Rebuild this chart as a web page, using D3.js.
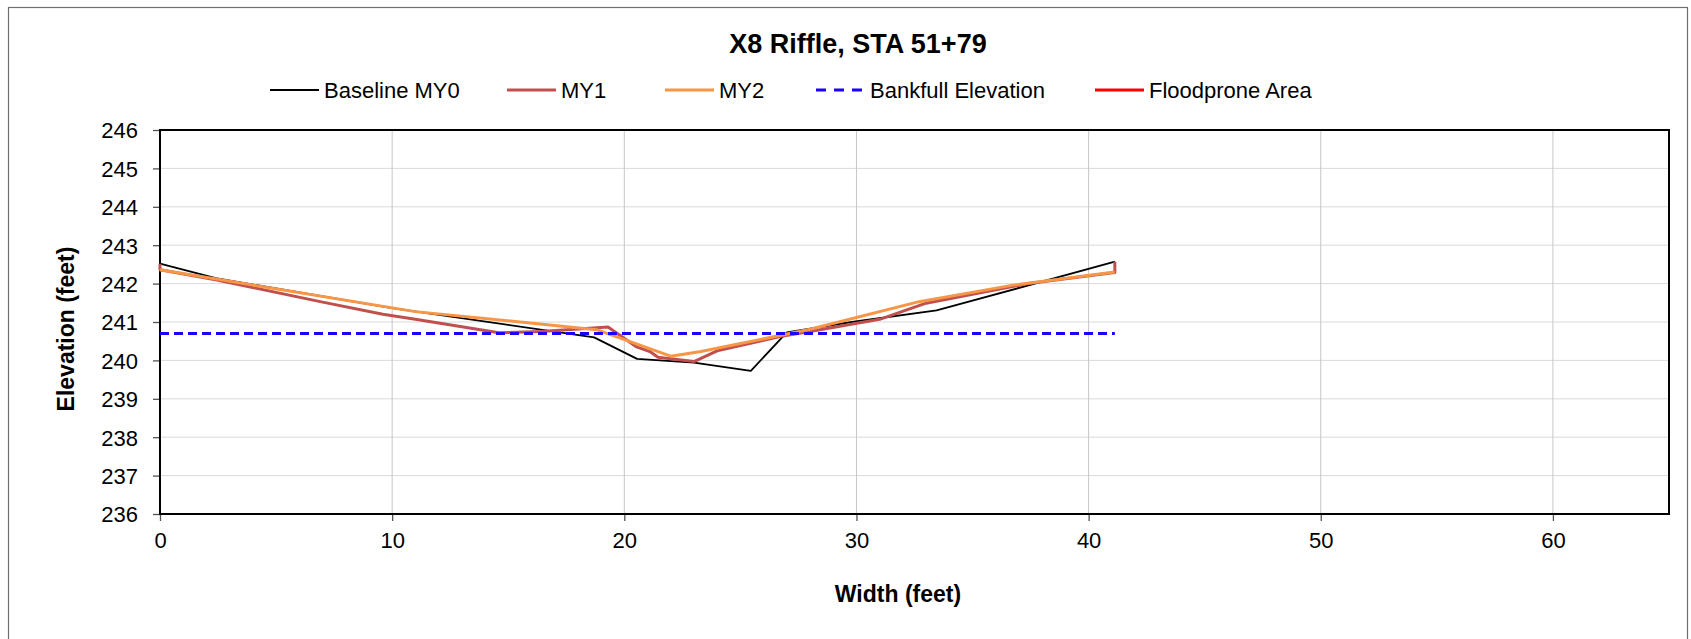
<!DOCTYPE html>
<html>
<head>
<meta charset="utf-8">
<script src="https://cdn.jsdelivr.net/npm/d3@7"></script>
<style>
    body { margin: 0; background: #fff; }
    svg { font-family: "Liberation Sans", Arial, sans-serif; }
</style>
</head>
<body>
<div id="my_dataviz"></div>
<script>
// cross section survey points [width, elevation]
const baselineMY0 = [[0, 242.52], [2.4, 242.14], [10, 241.36], [18.7, 240.6], [20.55, 240.04], [23.0, 239.94],
    [25.45, 239.73], [27.0, 240.73], [29.8, 241.0], [33.45, 241.3], [41.13, 242.57]];
const my1 = [[0, 242.52], [0, 242.36], [2.4, 242.1], [6.9, 241.53], [9.6, 241.2], [11.0, 241.07], [14.6, 240.72],
    [16.4, 240.75], [19.3, 240.87], [20.5, 240.36], [21.1, 240.23], [21.45, 240.08], [23.0, 239.97], [24.0, 240.25],
    [26.7, 240.62], [28.0, 240.75], [31.0, 241.07], [33.0, 241.49], [37.4, 242.0], [41.13, 242.29], [41.13, 242.57]];
const my2 = [[0, 242.36], [11.0, 241.27], [18.8, 240.8], [22.0, 240.11], [23.3, 240.23], [28.0, 240.81],
    [32.7, 241.53], [36.75, 241.96], [41.13, 242.3]];
const bankfull = [[0, 240.7], [41.13, 240.7]];
const floodprone = [];

const xTicks = [0, 10, 20, 30, 40, 50, 60];
const yTicks = [236, 237, 238, 239, 240, 241, 242, 243, 244, 245, 246];
const seriesNames = ["Baseline MY0", "MY1", "MY2", "Bankfull Elevation", "Floodprone Area"];

document.addEventListener("DOMContentLoaded", function() {

    const W = 1691, H = 639;
    const margin = {top: 130, right: 22, bottom: 125, left: 160},
        width = W - margin.left - margin.right,
        height = H - margin.top - margin.bottom;

    const root = d3.select("#my_dataviz")
        .append("svg")
        .attr("width", W)
        .attr("height", H);

    // outer chart frame
    root.append("rect")
        .attr("x", 8.5).attr("y", 7.5)
        .attr("width", 1679).attr("height", 700)
        .attr("fill", "none")
        .attr("stroke", "#6e6e6e")
        .attr("stroke-width", 1.2);

    const svg = root.append("g")
        .attr("transform", `translate(${margin.left},${margin.top})`);

    const xScale = d3.scaleLinear().domain([0, 65]).range([0, width]);
    const yScale = d3.scaleLinear().domain([236, 246]).range([height, 0]);

    // gridlines
    svg.append("g")
        .selectAll("line")
        .data(yTicks)
        .enter().append("line")
        .attr("x1", 0).attr("x2", width)
        .attr("y1", d => yScale(d)).attr("y2", d => yScale(d))
        .attr("stroke", "#dadada")
        .attr("stroke-width", 1);
    svg.append("g")
        .selectAll("line")
        .data(xTicks)
        .enter().append("line")
        .attr("x1", d => xScale(d)).attr("x2", d => xScale(d))
        .attr("y1", 0).attr("y2", height)
        .attr("stroke", "#c6c6c6")
        .attr("stroke-width", 1);

    // axes
    const xAxis = svg.append("g")
        .attr("transform", `translate(0,${height})`)
        .call(d3.axisBottom(xScale).tickValues(xTicks).tickSize(7).tickPadding(11).tickSizeOuter(0));
    const yAxis = svg.append("g")
        .call(d3.axisLeft(yScale).tickValues(yTicks).tickSize(7).tickPadding(15).tickSizeOuter(0));
    [xAxis, yAxis].forEach(a => {
        a.select(".domain").remove();
        a.selectAll("line").attr("stroke", "#555").attr("stroke-width", 1.3);
        a.selectAll("text")
            .attr("fill", "#000")
            .style("font-family", "'Liberation Sans', Arial, sans-serif")
            .style("font-size", "22px");
    });
    yAxis.selectAll("text").attr("dy", "0.36em");

    // plot border
    svg.append("rect")
        .attr("width", width).attr("height", height)
        .attr("fill", "none")
        .attr("stroke", "#000")
        .attr("stroke-width", 2);

    const line = d3.line()
        .x(d => xScale(d[0]))
        .y(d => yScale(d[1]));

    const series = [
        {name: seriesNames[0], data: baselineMY0, color: "#000000", w: 1.8, dash: null},
        {name: seriesNames[1], data: my1, color: "#c0504d", w: 3, dash: null},
        {name: seriesNames[2], data: my2, color: "#f79646", w: 3, dash: null},
        {name: seriesNames[3], data: bankfull, color: "#1a00ff", w: 3.2, dash: "9,5"},
        {name: seriesNames[4], data: floodprone, color: "#ff0000", w: 3, dash: null}
    ];

    series.forEach(s => {
        if (!s.data.length) return;
        svg.append("path")
            .datum(s.data)
            .attr("fill", "none")
            .attr("stroke", s.color)
            .attr("stroke-width", s.w)
            .attr("stroke-linejoin", "round")
            .attr("stroke-dasharray", s.dash)
            .attr("d", line);
    });

    // title
    root.append("text")
        .attr("x", 858).attr("y", 53)
        .attr("text-anchor", "middle")
        .style("font-size", "27px")
        .style("font-weight", "bold")
        .text("X8 Riffle, STA 51+79");

    // legend
    const legendX = [270, 507, 665, 816, 1095];
    const legend = root.append("g").attr("transform", "translate(0,90)");
    series.forEach((s, i) => {
        const g = legend.append("g").attr("transform", `translate(${legendX[i]},0)`);
        g.append("line")
            .attr("x1", 0).attr("x2", 49)
            .attr("stroke", s.color)
            .attr("stroke-width", s.w)
            .attr("stroke-dasharray", s.dash ? "10,8" : null);
        g.append("text")
            .attr("x", 54).attr("dy", "0.36em")
            .style("font-size", "22px")
            .text(s.name);
    });

    // axis titles
    root.append("text")
        .attr("transform", `translate(74,329) rotate(-90)`)
        .attr("text-anchor", "middle")
        .style("font-size", "23px")
        .style("font-weight", "bold")
        .text("Elevation (feet)");
    root.append("text")
        .attr("x", 898).attr("y", 602)
        .attr("text-anchor", "middle")
        .style("font-size", "23px")
        .style("font-weight", "bold")
        .text("Width (feet)");
});
</script>
</body>
</html>
